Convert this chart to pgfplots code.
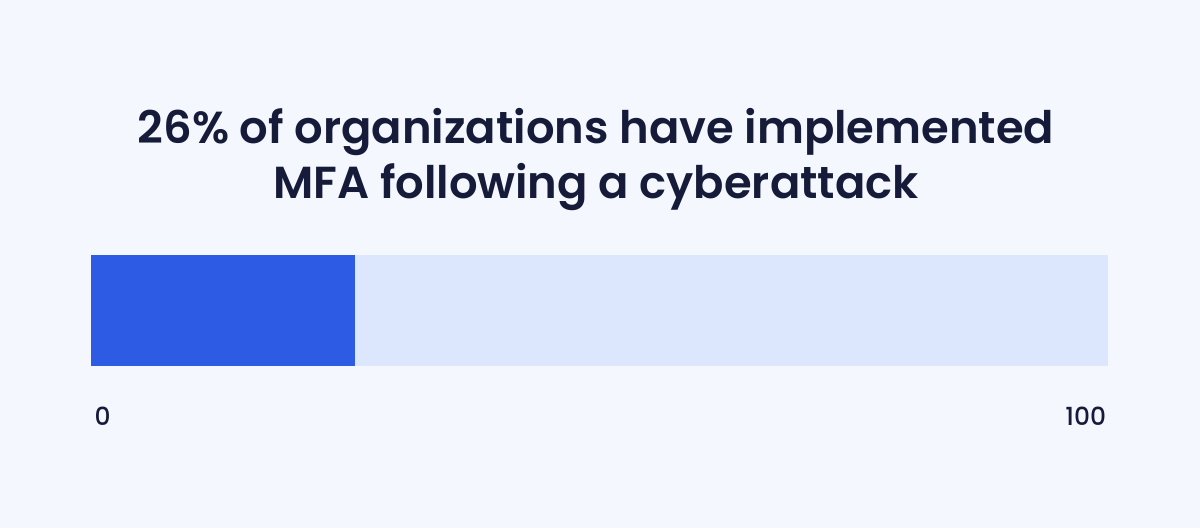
\documentclass[border=0pt]{standalone}
\usepackage{pgfplots}
\pgfplotsset{compat=1.18}
\usepackage{fontspec}
\setmainfont{Poppins}[BoldFont={Poppins SemiBold}]
\newfontfamily\labelfont{Poppins Medium}
\definecolor{bg}{HTML}{F4F8FE}
\definecolor{mfa}{HTML}{2D5BE3}
\definecolor{rest}{HTML}{DCE6FC}
\definecolor{ink}{HTML}{161B3A}
\begin{document}
\begin{tikzpicture}[x=1bp,y=1bp]
\fill[bg] (0,0) rectangle (600,264);
\useasboundingbox (0,0) rectangle (600,264);
\node[anchor=base, text=ink, font=\fontsize{22.5}{27}\selectfont\bfseries] at (298,192.5) {26\% of organizations have implemented};
\node[anchor=base, text=ink, font=\fontsize{22.5}{27}\selectfont\bfseries] at (298,165) {MFA following a cyberattack};
\begin{axis}[
  at={(45.5bp,81bp)}, anchor=south west,
  scale only axis, width=508.5bp, height=55.75bp,
  xbar stacked, bar width=1,
  xmin=0, xmax=100, ymin=-0.5, ymax=0.5,
  hide axis, clip=false,
]
\addplot[fill=mfa, draw=none] coordinates {(26,0)};
\addplot[fill=rest, draw=none] coordinates {(74,0)};
\node[anchor=base, text=ink, font=\labelfont\fontsize{12.5}{15}\selectfont] at (axis cs:1.15,-1.03) {0};
\node[anchor=base east, text=ink, font=\labelfont\fontsize{12.5}{15}\selectfont] at (axis cs:100.5,-1.03) {100};
\end{axis}
\end{tikzpicture}
\end{document}
